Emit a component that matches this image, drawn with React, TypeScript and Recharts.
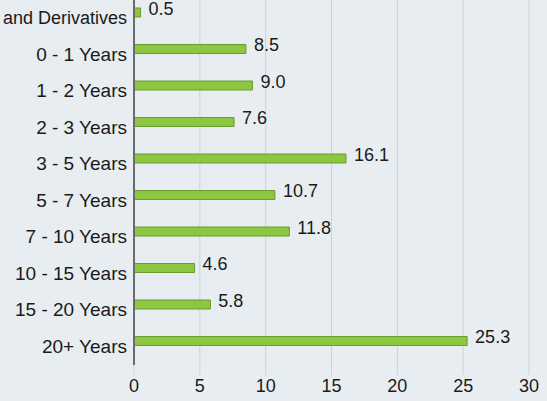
import { BarChart, Bar, XAxis, YAxis, CartesianGrid, LabelList } from 'recharts';

const categories = [
  'and Derivatives',
  '0 - 1 Years',
  '1 - 2 Years',
  '2 - 3 Years',
  '3 - 5 Years',
  '5 - 7 Years',
  '7 - 10 Years',
  '10 - 15 Years',
  '15 - 20 Years',
  '20+ Years',
];
const weights = [0.5, 8.5, 9.0, 7.6, 16.1, 10.7, 11.8, 4.6, 5.8, 25.3];
const xTicks = [0, 5, 10, 15, 20, 25, 30];

const data = categories.map((name, i) => ({ name, value: weights[i] }));

const FONT = 'Liberation Sans, Arial, sans-serif';
const BG = '#e8edf1';
const GRID = '#cdd2d6';

function YTick(props: any) {
  const { x, y, payload } = props;
  // the long first label has to fit inside the left edge
  const size = payload.value.length > 14 ? 18 : 19;
  return (
    <text x={x} y={y} dy={12} textAnchor="end" fontSize={size} fontFamily={FONT} fill="#1a1a1a">
      {payload.value}
    </text>
  );
}

function ValueLabel(props: any) {
  const { x, y, width, height, value } = props;
  return (
    <text
      x={x + width + 8}
      y={y + height / 2 - 4}
      dominantBaseline="central"
      fontSize={18}
      fontFamily={FONT}
      fill="#1a1a1a"
    >
      {Number(value).toFixed(1)}
    </text>
  );
}

export default function App() {
  return (
    <div
      style={{
        position: 'fixed',
        left: 0,
        top: 0,
        width: 547,
        height: 401,
        overflow: 'hidden',
        background: BG,
      }}
    >
      <div style={{ position: 'absolute', left: 0, top: -12 }}>
        <BarChart
          width={547}
          height={413}
          data={data}
          layout="vertical"
          margin={{ top: 0, right: 18, bottom: 0, left: 0 }}
        >
          <CartesianGrid horizontal={false} stroke={GRID} strokeWidth={1} />
          <XAxis
            type="number"
            domain={[0, 30]}
            ticks={xTicks}
            axisLine={false}
            tickLine={{ stroke: GRID }}
            tickSize={10}
            tickMargin={4}
            height={36}
            tick={{ fontSize: 18, fontFamily: FONT, fill: '#1a1a1a' }}
          />
          <YAxis
            type="category"
            dataKey="name"
            width={134}
            padding={{ top: 6, bottom: 6 }}
            axisLine={{ stroke: '#6b6b6b', strokeWidth: 2 }}
            tickLine={false}
            tickSize={0}
            tickMargin={7}
            interval={0}
            tick={<YTick />}
          />
          <Bar
            dataKey="value"
            fill="#8dc63f"
            stroke="#6b9a2e"
            strokeWidth={1}
            barSize={9}
            isAnimationActive={false}
          >
            <LabelList dataKey="value" content={<ValueLabel />} />
          </Bar>
        </BarChart>
      </div>
    </div>
  );
}
